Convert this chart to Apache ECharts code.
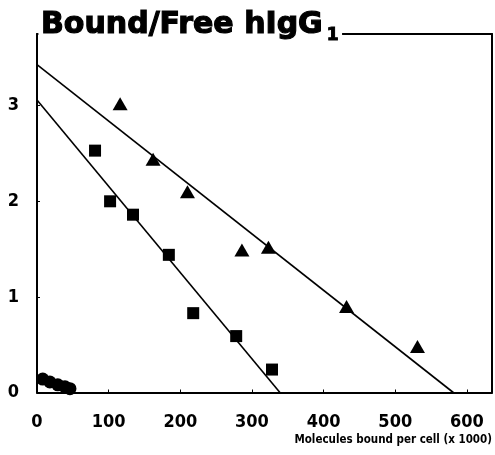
<!DOCTYPE html>
<html>
<head>
<meta charset="utf-8">
<script src="https://cdn.jsdelivr.net/npm/echarts@6/dist/echarts.min.js"></script>
<style>html,body{margin:0;padding:0;background:#fff}#c{width:495px;height:455px}</style>
</head>
<body>
<div id="c"></div>
<script>
// Data (x in thousands of molecules bound per cell, y = bound/free)
const triangleX = [116, 162, 210, 286, 323, 432, 531];
const triangleY = [3.02, 2.44, 2.10, 1.49, 1.52, 0.90, 0.48];
const squareX = [81, 102, 134, 184, 218, 278, 328];
const squareY = [2.53, 2.00, 1.86, 1.44, 0.83, 0.59, 0.24];
const circleX = [8, 18, 29, 39, 46];
const circleY = [0.14, 0.11, 0.08, 0.06, 0.04];
const upperLineX = [0, 581];
const upperLineY = [3.43, 0];
const lowerLineX = [0, 339];
const lowerLineY = [3.06, 0];
const xTicks = [0, 100, 200, 300, 400, 500, 600];
const yTicks = [0, 1, 2, 3];

const pairs = (xs, ys) => xs.map((x, i) => [x, ys[i]]);
const tickFont = '"DejaVu Sans Condensed", "Liberation Sans Narrow", sans-serif';
const titleFont = '"DejaVu Sans", sans-serif';

const chart = echarts.init(document.getElementById('c'), null, {renderer: 'canvas'});
chart.setOption({
  animation: false,
  backgroundColor: '#fff',
  title: {
    text: '{m|Bound/Free hIgG}{sub|1}',
    left: 39,
    top: 8,
    padding: [2, 3, 0, 2],
    backgroundColor: '#fff',
    textStyle: {
      fontFamily: titleFont, fontWeight: 'bold', fontSize: 30, color: '#000',
      rich: {
        m: {fontFamily: titleFont, fontWeight: 'bold', fontSize: 30, color: '#000', verticalAlign: 'top', lineHeight: 34, textBorderColor: '#000', textBorderWidth: 1.2},
        sub: {fontFamily: titleFont, fontWeight: 'bold', fontSize: 17, color: '#000', verticalAlign: 'bottom', lineHeight: 22, padding: [17, 0, 0, 4], textBorderColor: '#000', textBorderWidth: 1}
      }
    }
  },
  grid: {left: 37, right: 3, top: 34, bottom: 62.5, containLabel: false},
  xAxis: [{
    type: 'value', min: 0, max: 635, position: 'bottom',
    splitLine: {show: false},
    axisLine: {lineStyle: {color: '#000', width: 2}},
    axisTick: {inside: true, length: 3, lineStyle: {color: '#000'}, customValues: xTicks},
    axisLabel: {customValues: xTicks, margin: 21, color: '#000', fontFamily: tickFont, fontWeight: 'bold', fontSize: 18},
    name: 'Molecules bound per cell (x 1000)',
    nameLocation: 'end', nameGap: 0,
    nameTextStyle: {align: 'right', verticalAlign: 'top', padding: [42, 0, 0, 0], color: '#000', fontFamily: tickFont, fontWeight: 'bold', fontSize: 11.5}
  }, {
    type: 'value', min: 0, max: 635, position: 'top',
    splitLine: {show: false},
    axisLine: {onZero: false, lineStyle: {color: '#000', width: 2}},
    axisTick: {show: false}, axisLabel: {show: false}
  }],
  yAxis: [{
    type: 'value', min: 0, max: 3.75, position: 'left',
    splitLine: {show: false},
    axisLine: {onZero: false, lineStyle: {color: '#000', width: 2}},
    axisTick: {inside: true, length: 3, lineStyle: {color: '#000'}, customValues: yTicks},
    axisLabel: {customValues: yTicks, margin: 18, color: '#000', fontFamily: tickFont, fontWeight: 'bold', fontSize: 18}
  }, {
    type: 'value', min: 0, max: 3.75, position: 'right',
    splitLine: {show: false},
    axisLine: {onZero: false, lineStyle: {color: '#000', width: 2}},
    axisTick: {show: false}, axisLabel: {show: false}
  }],
  series: [
    {type: 'line', data: pairs(upperLineX, upperLineY), showSymbol: false, symbol: 'none', lineStyle: {color: '#000', width: 1.6}, z: 2},
    {type: 'line', data: pairs(lowerLineX, lowerLineY), showSymbol: false, symbol: 'none', lineStyle: {color: '#000', width: 1.6}, z: 2},
    {type: 'scatter', data: pairs(triangleX, triangleY), symbol: 'triangle', symbolSize: [15, 13], itemStyle: {color: '#000', opacity: 1}, z: 3},
    {type: 'scatter', data: pairs(squareX, squareY), symbol: 'rect', symbolSize: 12, itemStyle: {color: '#000', opacity: 1}, z: 3},
    {type: 'scatter', data: pairs(circleX, circleY), symbol: 'circle', symbolSize: 13, itemStyle: {color: '#000', opacity: 1}, z: 3}
  ]
});
</script>
</body>
</html>
